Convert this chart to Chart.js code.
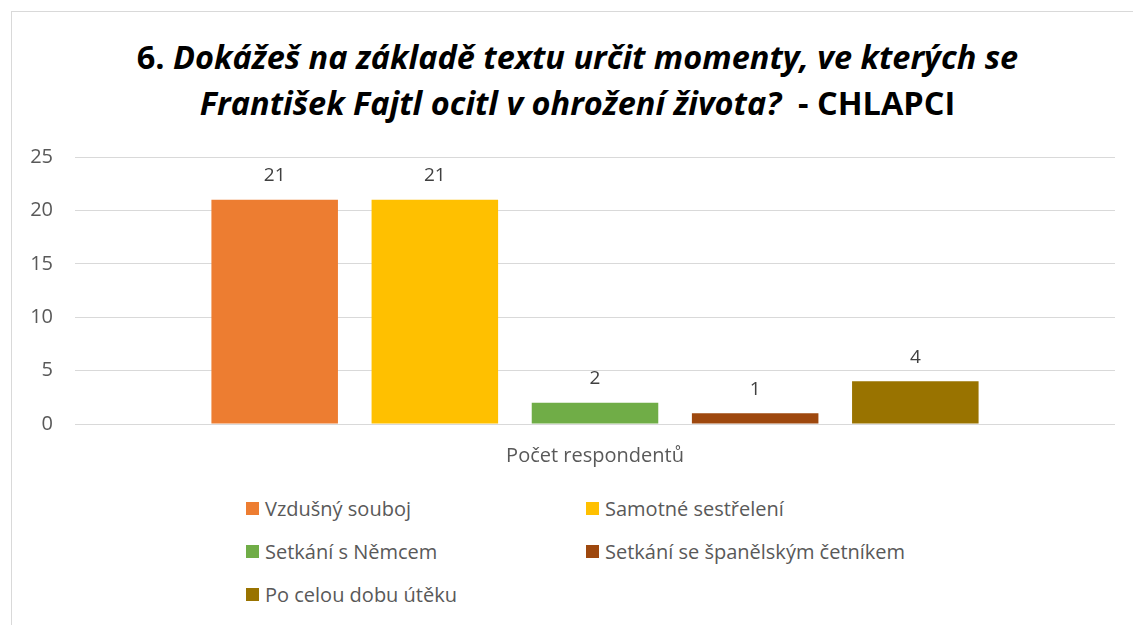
<!DOCTYPE html>
<html lang="cs">
<head>
  <meta charset="UTF-8">
  <title>6. Dokážeš na základě textu určit momenty - CHLAPCI</title>
  <script src="https://cdn.jsdelivr.net/npm/chart.js"></script>
  <style>
    body { margin: 0; background: #fff; font-family: "Open Sans", sans-serif; }
    #frame { position: absolute; left: 11px; top: 11px; width: 1140px; height: 640px;
             border-top: 1px solid #d9d9d9; border-left: 1px solid #d9d9d9; }
    #title { position: absolute; left: 11px; top: 34px; width: 1133px; text-align: center;
             font-size: 32.5px; font-weight: bold; line-height: 46px; color: #000; }
    #title i { font-style: italic; }
    #wrap { position: absolute; left: 0; top: 123px; width: 1133px; height: 365px; }
    #legend { position: absolute; left: 246px; top: 496px; width: 700px;
              display: grid; grid-template-columns: 340px 340px; row-gap: 19px; }
    .item { display: flex; align-items: center; font-size: 20px; color: #595959; height: 24px; }
    .box { width: 13px; height: 13px; margin-right: 6px; flex: none; }
  </style>
</head>
<body>
  <div id="frame"></div>
  <div id="title">6. <i>Dokážeš na základě textu určit momenty, ve kterých se<br>František Fajtl ocitl v ohrožení života?</i>&nbsp; - CHLAPCI</div>
  <div id="wrap"><canvas id="chartCanvas"></canvas></div>
  <div id="legend"></div>

  <script>
    const categories = ["Počet respondentů"];
    const seriesNames = ["Vzdušný souboj", "Samotné sestřelení", "Setkání s Němcem", "Setkání se španělským četníkem", "Po celou dobu útěku"];
    const seriesValues = [21, 21, 2, 1, 4];
    const seriesColors = ["#ED7D31", "#FFC000", "#70AD47", "#9E480E", "#997300"];
    const yTicks = [0, 5, 10, 15, 20, 25];

    const datasets = seriesNames.map((name, i) => ({
      label: name,
      data: [seriesValues[i]],
      backgroundColor: seriesColors[i],
      borderWidth: 0,
      categoryPercentage: 0.77,
      barPercentage: 0.79
    }));

    // hodnoty nad sloupci
    const valueLabels = {
      id: "valueLabels",
      afterDatasetsDraw(chart) {
        const c = chart.ctx;
        c.save();
        c.font = "19px 'Open Sans', sans-serif";
        c.fillStyle = "#404040";
        c.textAlign = "center";
        c.textBaseline = "middle";
        chart.data.datasets.forEach((ds, i) => {
          chart.getDatasetMeta(i).data.forEach((bar, j) => {
            c.fillText(ds.data[j], bar.x, bar.y - 24);
          });
        });
        c.restore();
      }
    };

    const ctx = document.getElementById("chartCanvas").getContext("2d");
    const chart = new Chart(ctx, {
      type: "bar",
      data: { labels: categories, datasets },
      plugins: [valueLabels],
      options: {
        responsive: true,
        maintainAspectRatio: false,
        animation: false,
        layout: { padding: { top: 14, right: 18, left: 0, bottom: 0 } },
        plugins: {
          legend: { display: false },
          title: { display: false },
          tooltip: { enabled: false }
        },
        scales: {
          x: {
            grid: { display: false, drawTicks: false },
            border: { display: false },
            ticks: { color: "#595959", font: { size: 20, family: "'Open Sans', sans-serif" }, padding: 20 }
          },
          y: {
            min: 0, max: 25,
            afterBuildTicks: s => { s.ticks = yTicks.map(v => ({ value: v })); },
            afterFit: s => { s.width = 75; },
            grid: { color: "#d9d9d9", lineWidth: 1, drawTicks: false },
            border: { display: false },
            ticks: { color: "#595959", font: { size: 20, family: "'Open Sans', sans-serif" }, padding: 22 }
          }
        }
      }
    });

    const legend = document.getElementById("legend");
    seriesNames.forEach((name, i) => {
      const item = document.createElement("div");
      item.className = "item";
      const box = document.createElement("span");
      box.className = "box";
      box.style.background = seriesColors[i];
      item.appendChild(box);
      item.appendChild(document.createTextNode(name));
      legend.appendChild(item);
    });
  </script>
</body>
</html>
